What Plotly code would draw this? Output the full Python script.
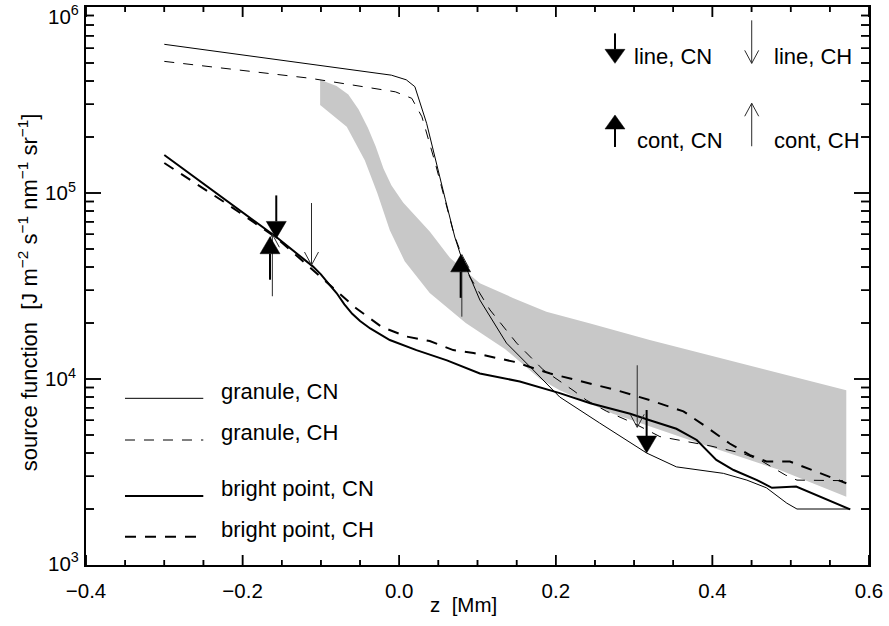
import plotly.graph_objects as go

# ---- source functions vs height z [Mm] ----
gran_cn_z = [-0.30, -0.010, 0.009, 0.020, 0.035, 0.050, 0.059, 0.071, 0.078, 0.103, 0.137,
             0.171, 0.205, 0.256, 0.316, 0.354, 0.384, 0.414, 0.444, 0.469, 0.495, 0.508, 0.576]
gran_cn_s = [6.3e5, 4.3e5, 4.06e5, 3.73e5, 2.37e5, 1.28e5, 9.2e4, 5.8e4, 4.7e4, 2.66e4, 1.56e4,
             1.12e4, 8.0e3, 5.8e3, 4.0e3, 3.37e3, 3.24e3, 3.11e3, 2.86e3, 2.6e3, 2.15e3, 2.0e3, 2.0e3]

gran_ch_z = [-0.30, -0.114, -0.005, 0.016, 0.029, 0.039, 0.046, 0.054, 0.070, 0.090, 0.116, 0.150,
             0.184, 0.222, 0.239, 0.265, 0.299, 0.333, 0.371, 0.397, 0.439, 0.463, 0.493, 0.508, 0.571]
gran_ch_s = [5.1e5, 4.14e5, 3.5e5, 3.23e5, 2.57e5, 1.85e5, 1.45e5, 1.08e5, 6.0e4, 3.55e4, 2.35e4, 1.56e4,
             1.12e4, 8.7e3, 7.7e3, 6.7e3, 5.8e3, 4.9e3, 4.6e3, 4.37e3, 3.98e3, 3.62e3, 3.05e3, 2.86e3, 2.84e3]

bp_cn_z = [-0.30, -0.157, -0.110, -0.100, -0.090, -0.080, -0.070, -0.060, -0.050, -0.037, -0.012,
           0.022, 0.061, 0.103, 0.154, 0.205, 0.244, 0.295, 0.320, 0.354, 0.380, 0.405, 0.427,
           0.457, 0.476, 0.507, 0.576]
bp_cn_s = [1.6e5, 5.8e4, 4.02e4, 3.65e4, 3.25e4, 2.9e4, 2.52e4, 2.24e4, 2.05e4, 1.87e4, 1.62e4,
           1.43e4, 1.26e4, 1.07e4, 9.7e3, 8.4e3, 7.4e3, 6.5e3, 6.0e3, 5.4e3, 4.7e3, 3.67e3, 3.24e3,
           2.86e3, 2.6e3, 2.64e3, 1.99e3]

bp_ch_z = [-0.30, -0.221, -0.157, -0.101, -0.088, -0.055, -0.022, 0.010, 0.039, 0.069, 0.095, 0.146,
           0.193, 0.235, 0.278, 0.320, 0.363, 0.393, 0.422, 0.448, 0.469, 0.499, 0.533, 0.571]
bp_ch_s = [1.45e5, 8.8e4, 5.75e4, 3.55e4, 3.2e4, 2.4e4, 1.9e4, 1.69e4, 1.6e4, 1.43e4, 1.38e4, 1.24e4,
           1.07e4, 9.7e3, 8.7e3, 7.7e3, 6.7e3, 5.5e3, 4.5e3, 3.9e3, 3.6e3, 3.6e3, 3.18e3, 2.75e3]

# shaded band: upper edge left->right, then lower edge right->left
band_z = [-0.101, -0.080, -0.065, -0.052, -0.040, -0.030, -0.020, -0.010, 0.005, 0.020, 0.039,
          0.065, 0.103, 0.146, 0.188, 0.244, 0.320, 0.571,
          0.571, 0.486, 0.384, 0.273, 0.205, 0.180, 0.135, 0.085, 0.039, 0.007, -0.012, -0.028,
          -0.044, -0.067, -0.101]
band_s = [4.06e5, 3.76e5, 3.39e5, 2.82e5, 2.24e5, 1.78e5, 1.35e5, 1.1e5, 8.9e4, 7.6e4, 6.2e4,
          4.47e4, 3.27e4, 2.72e4, 2.3e4, 1.99e4, 1.62e4, 8.7e3,
          2.33e3, 3.24e3, 4.5e3, 6.5e3, 8.7e3, 1.0e4, 1.45e4, 2.0e4, 2.9e4, 4.3e4, 6.3e4, 1.0e5,
          1.5e5, 2.27e5, 2.97e5]

# formation heights (arrow tips)
line_cn_z = [-0.157, 0.316]
line_cn_s = [5.7e4, 4.0e3]
line_ch_z = [-0.112, 0.304]
line_ch_s = [4.1e4, 5.5e3]
cont_cn_z = [-0.165, 0.0785]
cont_cn_s = [5.82e4, 4.65e4]
cont_ch_z = [-0.162, 0.080]
cont_ch_s = [6.0e4, 4.66e4]

# axis ticks
x_ticks = [-0.4, -0.2, 0.0, 0.2, 0.4, 0.6]
x_minor_ticks = [-0.35, -0.30, -0.25, -0.15, -0.10, -0.05, 0.05, 0.10, 0.15,
                 0.25, 0.30, 0.35, 0.45, 0.50, 0.55]
y_ticks = [1e3, 1e4, 1e5, 1e6]
y_ticktext = ["", "10<sup>4</sup>", "10<sup>5</sup>", ""]
y_minor_ticks = [m * 10 ** e for e in (3, 4, 5) for m in range(2, 10)]

FONT = "Liberation Sans, Arial, Helvetica, sans-serif"
FS_TICK = 20.5
FS_KEY = 22
BLACK = "#000000"
THIN_ARROW = "#2a2a2a"
X_RANGE = [-0.4, 0.6]
Y_RANGE = [3, 6]
WIDTH, HEIGHT = 889, 626
MARGIN = dict(l=86, r=20, t=7, b=61)
PLOT_W = WIDTH - MARGIN["l"] - MARGIN["r"]
PLOT_H = HEIGHT - MARGIN["t"] - MARGIN["b"]
PX_PER_X = PLOT_W / (X_RANGE[1] - X_RANGE[0])
PX_PER_DECADE = PLOT_H / (Y_RANGE[1] - Y_RANGE[0])

fig = go.Figure()

fig.add_trace(go.Scatter(x=band_z, y=band_s, mode="lines", fill="toself",
                         fillcolor="#c8c8c8", line=dict(width=0, color="#c8c8c8"),
                         hoverinfo="skip"))

curves = [
    (gran_cn_z, gran_cn_s, 1.0, "solid"),
    (gran_ch_z, gran_ch_s, 1.0, "10px,9px"),
    (bp_cn_z, bp_cn_s, 2.0, "solid"),
    (bp_ch_z, bp_ch_s, 2.0, "11px,9px"),
]
for zz, ss, w, d in curves:
    fig.add_trace(go.Scatter(x=zz, y=ss, mode="lines",
                             line=dict(color=BLACK, width=w, dash=d)))

# inward tick marks on all four frame edges, as short segments of one line trace
x_lo, x_hi = X_RANGE
y_lo, y_hi = 10 ** Y_RANGE[0], 10 ** Y_RANGE[1]
tx, ty = [], []
for vals, ln in ((x_ticks, 10), (x_minor_ticks, 5)):
    f = 10 ** (ln / PX_PER_DECADE)
    for v in vals:
        tx += [v, v, None, v, v, None]
        ty += [y_lo, y_lo * f, None, y_hi, y_hi / f, None]
for vals, ln in ((y_ticks[1:-1], 15), (y_minor_ticks, 8)):
    dx = ln / PX_PER_X
    for v in vals:
        tx += [x_lo, x_lo + dx, None, x_hi, x_hi - dx, None]
        ty += [v, v, None, v, v, None]
fig.add_trace(go.Scatter(x=tx, y=ty, mode="lines", cliponaxis=False, hoverinfo="skip",
                         connectgaps=False, line=dict(color=BLACK, width=1.5)))


def arrow(kind, x, y, xref="x", yref="y", stem=None, tri=17):
    """Arrow with its tip at (x, y); path offsets are in pixels, +y upward."""
    base = dict(type="path", xref=xref, yref=yref, xsizemode="pixel", ysizemode="pixel",
                xanchor=x, yanchor=y, layer="above")
    out = []
    if kind in ("line_cn", "cont_cn"):
        sgn = 1 if kind == "line_cn" else -1
        L = stem if stem else 43
        out.append(dict(base, path=f"M-10,{sgn*tri} L10,{sgn*tri} L0,0 Z",
                        fillcolor=BLACK, line=dict(color=BLACK, width=0.5)))
        out.append(dict(base, path=f"M0,{sgn*tri} L0,{sgn*L}",
                        line=dict(color=BLACK, width=2)))
    else:
        sgn = 1 if kind == "line_ch" else -1
        L = stem if stem else 62
        out.append(dict(base, path=f"M0,0 L0,{sgn*L}",
                        line=dict(color=THIN_ARROW, width=1)))
        out.append(dict(base, path=f"M-7,{sgn*13} L0,0 L7,{sgn*13}",
                        line=dict(color=THIN_ARROW, width=1)))
    return out


shapes = []
for kind, zs, ss in (("cont_ch", cont_ch_z, cont_ch_s), ("line_ch", line_ch_z, line_ch_s),
                     ("line_cn", line_cn_z, line_cn_s), ("cont_cn", cont_cn_z, cont_cn_s)):
    for z, s in zip(zs, ss):
        shapes += arrow(kind, z, s)

# the same tick marks as pixel-sized paths anchored on the frame edges
tick_line = dict(color=BLACK, width=1.5)
for vals, ln in ((x_ticks, 10), (x_minor_ticks, 5)):
    for v in vals:
        for edge, sgn in ((0, 1), (1, -1)):
            shapes.append(dict(type="path", xref="x", yref="paper", xsizemode="pixel",
                               ysizemode="pixel", xanchor=v, yanchor=edge,
                               path=f"M0,0 L0,{sgn * ln}", line=tick_line, layer="above"))
for vals, ln in ((y_ticks[1:-1], 15), (y_minor_ticks, 8)):
    for v in vals:
        for edge, sgn in ((0, 1), (1, -1)):
            shapes.append(dict(type="path", xref="paper", yref="y", xsizemode="pixel",
                               ysizemode="pixel", xanchor=edge, yanchor=v,
                               path=f"M0,0 L{sgn * ln},0", line=tick_line, layer="above"))

# symbol key (upper right)
shapes += arrow("line_cn", 0.6756, 0.899, "paper", "paper", stem=30, tri=14)
shapes += arrow("line_ch", 0.8502, 0.899, "paper", "paper", stem=43)
shapes += arrow("cont_cn", 0.6756, 0.8065, "paper", "paper", stem=32, tri=14)
shapes += arrow("cont_ch", 0.8502, 0.8275, "paper", "paper", stem=43)

# line key (lower left)
key_rows = [(0.2987, 1.0, "solid", "granule, CN"), (0.224, 1.0, "10px,9px", "granule, CH"),
            (0.1237, 2.0, "solid", "bright point, CN"), (0.0507, 2.0, "11px,9px", "bright point, CH")]
annotations = []
for yy, w, d, label in key_rows:
    shapes.append(dict(type="line", xref="paper", yref="paper", x0=0.0498, x1=0.1498,
                       y0=yy, y1=yy, line=dict(color=BLACK, width=w, dash=d)))
    annotations.append(dict(x=0.1699, y=yy + 0.013, xref="paper", yref="paper", text=label,
                            showarrow=False, xanchor="left", yanchor="middle",
                            font=dict(size=FS_KEY, family=FONT, color=BLACK)))

for xx, yy, label in ((0.697, 0.911, "line, CN"), (0.8757, 0.911, "line, CH"),
                      (0.701, 0.761, "cont, CN"), (0.8757, 0.761, "cont, CH")):
    annotations.append(dict(x=xx, y=yy, xref="paper", yref="paper", text=label,
                            showarrow=False, xanchor="left", yanchor="middle",
                            font=dict(size=FS_KEY, family=FONT, color=BLACK)))

# end labels of the log axis, kept inside the page
annotations.append(dict(x=-0.006, y=1.012, xref="paper", yref="paper", text="10<sup>6</sup>",
                        showarrow=False, xanchor="right", yanchor="top",
                        font=dict(size=FS_TICK, family=FONT, color=BLACK)))
annotations.append(dict(x=-0.006, y=-0.021, xref="paper", yref="paper", text="10<sup>3</sup>",
                        showarrow=False, xanchor="right", yanchor="bottom",
                        font=dict(size=FS_TICK, family=FONT, color=BLACK)))

annotations.append(dict(x=0.4368, y=-0.07, xref="paper", yref="paper",
                        text="z\u00a0\u00a0[Mm]", showarrow=False, xanchor="left",
                        yanchor="middle", font=dict(size=FS_TICK, family=FONT, color=BLACK)))
annotations.append(dict(x=-0.074, y=0.489, xref="paper", yref="paper", textangle=-90,
                        text="source function\u00a0\u00a0[J m<sup>\u22122</sup> s<sup>\u22121</sup> "
                             "nm<sup>\u22121</sup> sr<sup>\u22121</sup>]",
                        showarrow=False, xanchor="center", yanchor="middle",
                        font=dict(size=22, family=FONT, color=BLACK)))

fig.update_layout(
    template="none",
    width=WIDTH, height=HEIGHT,
    margin=dict(MARGIN, autoexpand=False),
    paper_bgcolor="white", plot_bgcolor="white",
    showlegend=False,
    font=dict(family=FONT, size=FS_TICK, color=BLACK),
    shapes=shapes, annotations=annotations,
    xaxis=dict(range=X_RANGE, tickvals=x_ticks, tickformat=".1f", automargin=False,
               ticks="", showline=True, linewidth=2, linecolor=BLACK, mirror=True,
               showgrid=False, zeroline=False, ticklabelstandoff=6,
               tickfont=dict(size=FS_TICK, family=FONT, color=BLACK)),
    yaxis=dict(type="log", range=Y_RANGE, tickvals=y_ticks, ticktext=y_ticktext,
               automargin=False, ticks="", showline=True, linewidth=2, linecolor=BLACK,
               mirror=True, showgrid=False, zeroline=False, ticklabelstandoff=4,
               tickfont=dict(size=FS_TICK, family=FONT, color=BLACK)),
)

fig.write_html("out.html")
